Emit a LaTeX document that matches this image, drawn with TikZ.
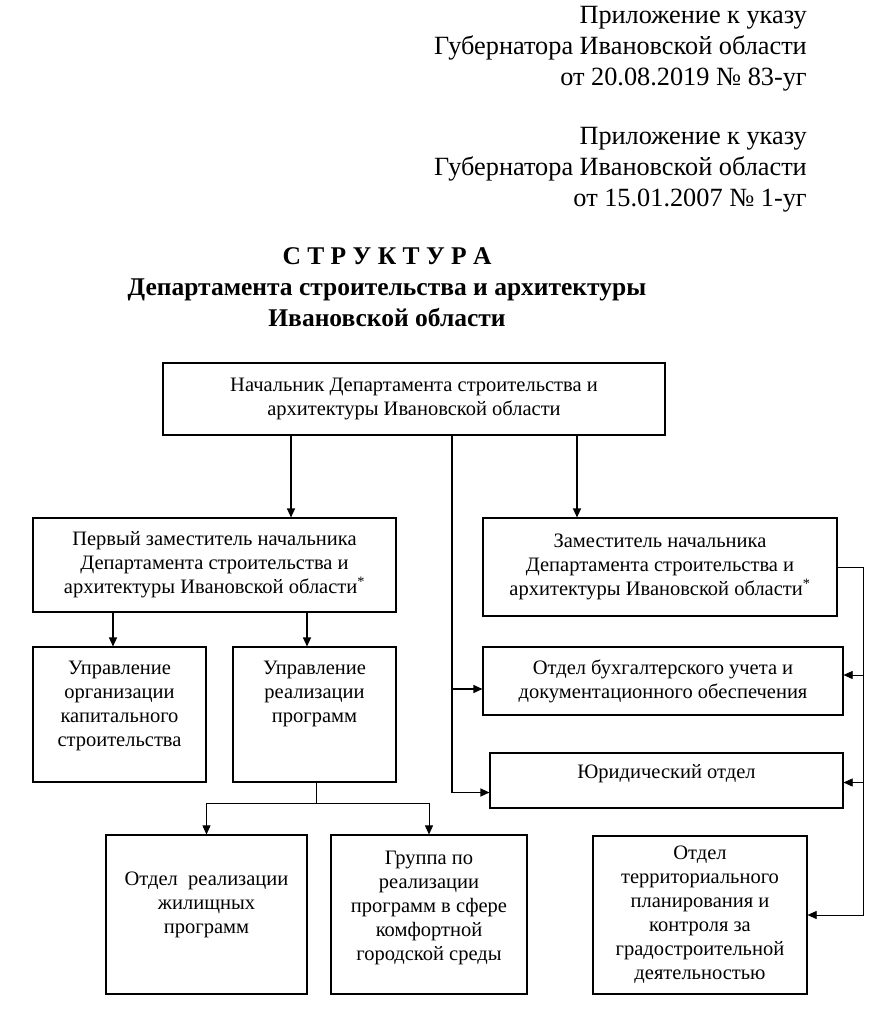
\documentclass[tikz,border=0pt]{standalone}
\usepackage{fontspec}
\setmainfont{Liberation Serif}
\usetikzlibrary{arrows.meta}

\begin{document}
\begin{tikzpicture}[x=1pt, y=-1pt,
        every node/.style={inner sep=0pt},
        head/.style={align=right, anchor=north east,
            font=\fontsize{26.3}{31}\selectfont},
        title/.style={align=center, anchor=north,
            font=\fontsize{25.5}{31}\selectfont\bfseries},
        box/.style={rectangle, draw, line width=1.1pt,
            align=center, font=\fontsize{20.5}{24}\selectfont},
        boxtext/.style={align=center, anchor=north,
            font=\fontsize{20.5}{24}\selectfont},
        arrow/.style={-{Triangle[length=9pt, width=8pt]}, line width=1.1pt},
        thinline/.style={line width=0.6pt},
        thinarrow/.style={-{Triangle[length=9pt, width=8pt]}, line width=0.6pt}
      ]
      \useasboundingbox (0,0) rectangle (894,1023);
      % header
      \node[head] (ukaz1) at (807,6)
      {Приложение к указу\\Губернатора Ивановской области\\от 20.08.2019 № 83-уг};
      \node[head] (ukaz2) at (807,127)
      {Приложение к указу\\Губернатора Ивановской области\\от 15.01.2007 № 1-уг};
      \node[title] (struct) at (387,247)
      {С Т Р У К Т У Р А\\Департамента строительства и архитектуры\\Ивановской области};
      % boxes
      \node[box, minimum width=502pt, minimum height=72pt] (nach) at (414,399)
      {Начальник Департамента строительства и\\архитектуры Ивановской области};
      \node[box, minimum width=363pt, minimum height=94pt] (perv) at (214.5,565)
      {Первый заместитель начальника\\Департамента строительства и\\архитектуры Ивановской области\textsuperscript{*}};
      \node[box, minimum width=354pt, minimum height=98pt] (zam) at (660,567)
      {Заместитель начальника\\Департамента строительства и\\архитектуры Ивановской области\textsuperscript{*}};
      \node[box, minimum width=173pt, minimum height=135pt] (uprkap) at (119.5,714.5) {};
      \node[boxtext, below=14pt] (uprkaptxt) at (uprkap.north)
      {Управление\\организации\\капитального\\строительства};
      \node[box, minimum width=163pt, minimum height=135pt] (uprprog) at (314.5,714.5) {};
      \node[boxtext, below=14pt] (uprprogtxt) at (uprprog.north)
      {Управление\\реализации\\программ};
      \node[box, minimum width=360pt, minimum height=68pt] (buh) at (663,681)
      {Отдел бухгалтерского учета и\\документационного обеспечения};
      \node[box, minimum width=353pt, minimum height=55pt] (yur) at (666.5,780.5) {};
      \node[boxtext, below=12pt] (yurtxt) at (yur.north) {Юридический отдел};
      \node[box, minimum width=201pt, minimum height=159pt] (otdzh) at (206.5,914.5) {};
      \node[boxtext, below=37pt] (otdzhtxt) at (otdzh.north)
      {Отдел\ \ реализации\\жилищных\\программ};
      \node[box, minimum width=196pt, minimum height=159pt] (grp) at (429,914.5) {};
      \node[boxtext, below=16pt] (grptxt) at (grp.north)
      {Группа по\\реализации\\программ в сфере\\комфортной\\городской среды};
      \node[box, minimum width=214pt, minimum height=158pt] (terr) at (700,915)
      {Отдел\\территориального\\планирования и\\контроля за\\градостроительной\\деятельностью};
      \coordinate (fork) at (316,803);
      % connectors
      \draw[arrow] (291,0 |- nach.south) -- (291,0 |- perv.north);
      \draw[arrow] (577,0 |- nach.south) -- (577,0 |- zam.north);
      \draw[arrow] (452,0 |- nach.south) |- ([yshift=-12pt]yur.west);
      \draw[arrow] (452,0 |- buh.west) ++(0,8) -- ([yshift=-8pt]buh.west);
      \draw[arrow] (113,0 |- perv.south) -- (113,0 |- uprkap.north);
      \draw[arrow] (307,0 |- perv.south) -- (307,0 |- uprprog.north);
      \draw[thinline] (316,0 |- uprprog.south) -- (fork);
      \draw[thinarrow] (fork) -| (otdzh.north);
      \draw[thinarrow] (fork) -| (grp.north);
      \draw[thinarrow] (zam.east) -| (863,0 |- terr.east) -- (terr.east);
      \draw[thinarrow] (863,0 |- buh.east) ++(0,-6) -- ([yshift=6pt]buh.east);
      \draw[thinarrow] (863,0 |- yur.east) ++(0,2) -- ([yshift=-2pt]yur.east);
    \end{tikzpicture}
\end{document}
